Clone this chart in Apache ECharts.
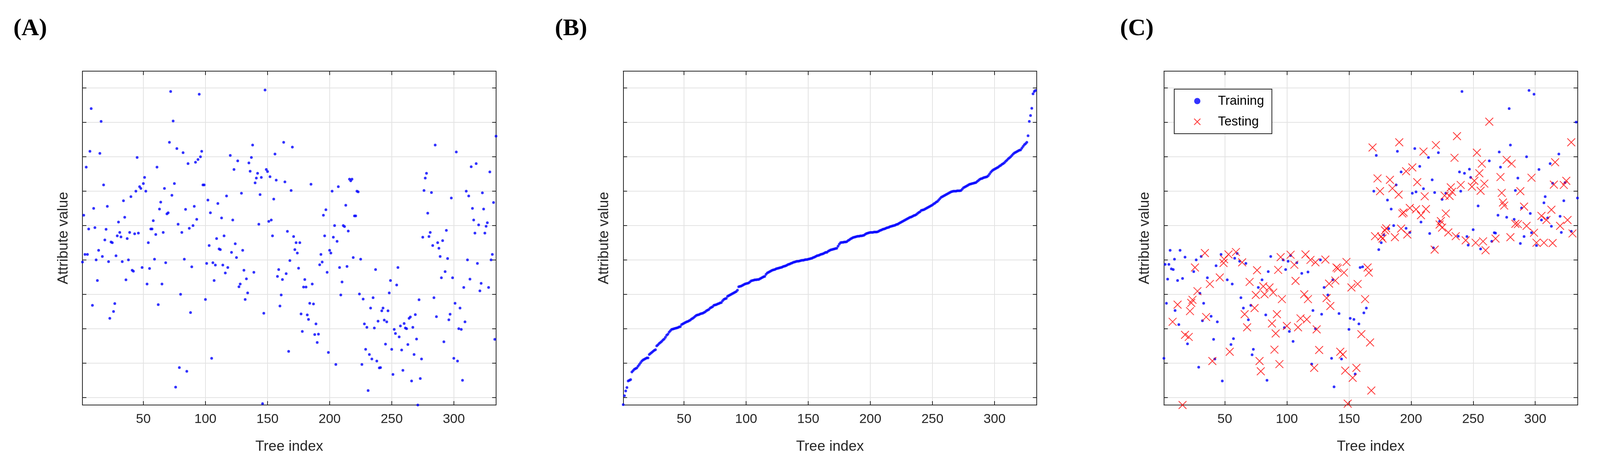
<!DOCTYPE html>
<html>
<head>
<meta charset="utf-8">
<script src="https://cdn.jsdelivr.net/npm/echarts@6/dist/echarts.min.js"></script>
<style>
html,body{margin:0;padding:0;background:#fff;overflow:hidden;}
#main{width:100vw;height:100vh;}
</style>
</head>
<body>
<div id="main"></div>
<script>
// tick positions (attribute value axis has no labels)
var xTicks = [50, 100, 150, 200, 250, 300];
var yTicks = [0, 1, 2, 3, 4, 5, 6, 7, 8, 9];

// (A) attribute value per tree index 1..334
var valuesA = [3.94,5.3,4.16,6.7,4.16,4.9,7.16,8.4,2.68,5.5,
4.94,4.0,3.4,4.28,7.1,8.03,4.1,6.18,4.58,4.89,
5.56,3.95,2.3,4.52,4.5,2.5,2.73,4.12,4.7,5.1,
4.8,4.67,3.95,5.72,5.24,3.42,4.62,4.0,4.8,5.84,
3.7,3.67,4.76,6.0,6.98,4.78,6.13,6.08,3.78,6.22,
6.4,6.0,3.3,4.5,3.75,4.9,4.9,5.14,4.02,4.74,
6.7,2.7,5.48,5.68,3.3,4.8,6.08,3.92,5.34,5.37,
7.42,8.9,5.88,8.04,6.22,0.3,7.24,5.04,0.87,3.0,
4.8,7.12,4.02,5.47,0.76,6.8,4.92,2.47,3.8,5.0,
5.56,6.84,5.18,6.92,8.82,7.0,7.16,6.18,6.18,2.85,
3.9,5.74,4.42,5.37,1.14,3.92,3.4,3.85,4.62,5.64,
4.32,4.3,5.22,3.85,4.7,3.62,5.86,3.78,9.5,7.04,
4.22,5.16,6.63,4.47,4.07,6.88,3.22,3.3,5.94,4.28,
3.7,2.85,3.45,3.04,6.82,6.58,6.98,7.34,3.64,6.24,
6.38,6.52,5.04,5.9,6.4,-0.18,2.45,8.94,6.63,6.57,
5.12,6.42,5.16,4.7,5.77,7.08,6.32,3.52,3.72,2.66,
2.98,3.43,7.42,6.27,3.6,4.83,1.34,3.98,6.02,7.28,
4.68,4.3,4.5,4.2,3.76,4.5,2.43,1.92,3.21,3.43,
3.21,2.4,2.27,2.74,6.2,3.3,2.72,1.83,2.14,1.6,
1.84,3.86,4.16,3.94,5.3,4.7,5.46,3.64,1.31,4.28,
4.2,6.0,4.66,5.0,0.96,4.54,6.13,3.78,2.98,3.36,
5.0,4.97,5.59,3.81,4.84,6.35,6.3,6.35,4.07,5.28,
5.28,6.0,5.98,3.01,4.02,0.96,2.86,2.14,1.4,2.04,
0.2,1.25,2.6,1.12,2.9,2.02,3.72,1.06,2.22,0.86,
0.87,2.52,2.6,2.25,1.55,2.2,2.52,3.04,3.4,1.4,
0.67,1.98,1.86,3.27,3.78,1.76,2.08,1.38,0.79,2.15,
2.02,2.0,1.54,2.3,2.34,0.48,2.04,1.25,2.41,1.7,
-0.22,2.84,0.55,1.12,4.66,6.02,6.38,6.52,5.36,4.68,
4.8,5.96,4.42,2.9,7.34,2.35,4.5,4.34,4.1,3.48,
4.56,1.62,3.66,4.86,4.04,2.26,2.42,5.8,3.48,1.14,
2.74,7.14,1.06,2.0,2.6,1.98,0.5,3.2,2.2,6.0,
4.0,5.86,3.44,6.71,5.5,5.16,4.78,6.8,3.9,5.02,
3.1,3.32,5.95,5.48,4.78,4.98,5.08,3.2,6.56,4.0,
4.16,5.67,1.69,7.6];

// (B) sorted attribute values
var valuesB = [-0.21,0.05,0.19,0.29,0.48,0.50,0.52,0.74,0.78,0.82,
0.84,0.86,0.91,0.96,1.01,1.06,1.09,1.11,1.13,1.15,
1.15,1.25,1.28,1.31,1.34,1.37,1.39,1.50,1.53,1.57,
1.60,1.63,1.67,1.70,1.75,1.81,1.84,1.90,1.94,1.98,
1.99,2.00,2.01,2.02,2.03,2.05,2.06,2.12,2.14,2.16,
2.18,2.20,2.21,2.23,2.25,2.28,2.30,2.33,2.36,2.39,
2.40,2.41,2.43,2.44,2.45,2.47,2.49,2.52,2.54,2.56,
2.60,2.62,2.64,2.68,2.69,2.70,2.72,2.73,2.75,2.76,
2.81,2.85,2.87,2.88,2.94,2.96,2.98,3.00,3.02,3.04,
3.06,3.08,3.12,3.22,3.23,3.24,3.26,3.28,3.30,3.31,
3.32,3.33,3.36,3.39,3.40,3.41,3.42,3.42,3.43,3.43,
3.45,3.47,3.49,3.51,3.52,3.58,3.62,3.64,3.66,3.68,
3.70,3.71,3.72,3.74,3.75,3.76,3.77,3.78,3.79,3.81,
3.82,3.83,3.85,3.87,3.88,3.90,3.91,3.93,3.94,3.95,
3.96,3.96,3.97,3.98,3.99,3.99,4.00,4.01,4.01,4.02,
4.03,4.04,4.05,4.07,4.08,4.10,4.12,4.13,4.14,4.16,
4.17,4.18,4.20,4.22,4.22,4.25,4.27,4.29,4.30,4.31,
4.32,4.33,4.34,4.40,4.46,4.50,4.51,4.51,4.52,4.52,
4.53,4.56,4.58,4.61,4.63,4.65,4.66,4.67,4.68,4.69,
4.69,4.70,4.70,4.71,4.72,4.75,4.77,4.78,4.79,4.80,
4.80,4.80,4.81,4.81,4.81,4.82,4.84,4.86,4.87,4.89,
4.90,4.91,4.93,4.94,4.95,4.97,4.98,4.99,5.00,5.01,
5.03,5.04,5.06,5.08,5.10,5.12,5.14,5.16,5.18,5.20,
5.22,5.24,5.25,5.27,5.29,5.30,5.32,5.35,5.38,5.40,
5.44,5.45,5.46,5.48,5.50,5.52,5.54,5.56,5.58,5.60,
5.63,5.65,5.68,5.70,5.74,5.78,5.82,5.84,5.86,5.88,
5.90,5.92,5.94,5.96,5.98,5.99,6.00,6.00,6.00,6.01,
6.01,6.01,6.02,6.06,6.10,6.12,6.14,6.16,6.18,6.20,
6.21,6.22,6.23,6.24,6.25,6.28,6.31,6.34,6.36,6.37,
6.39,6.40,6.41,6.42,6.45,6.50,6.55,6.59,6.62,6.64,
6.66,6.68,6.70,6.73,6.75,6.78,6.80,6.83,6.87,6.90,
6.94,6.97,7.00,7.04,7.08,7.11,7.13,7.15,7.17,7.19,
7.20,7.25,7.30,7.35,7.38,7.42,7.61,8.03,8.20,8.41,
8.83,8.90,8.93,9.51];

// (C) [tree index, value]
var trainingC = [[1,1.14],[2,3.87],[3,2.74],[4,3.44],[5,3.87],[6,4.28],[7,3.74],[8.5,3.72],[9.5,4.02],[10,2.53],
[12,3.4],[13,2.12],[14,4.28],[16,3.46],[18,4.08],[20,1.56],[25,3.66],[27,4.0],[29,0.88],[30,3.03],
[31,4.1],[32,2.23],[33,2.74],[36,3.48],[39,2.36],[41,1.69],[42,1.12],[43,3.83],[44,2.2],[47,4.16],
[48,0.48],[52,3.42],[55,1.54],[56,3.3],[57,1.71],[58,4.05],[60,4.19],[62,3.96],[63,2.9],[65,2.6],
[67,3.9],[69,2.26],[71,2.68],[72,1.24],[73,1.4],[77,3.2],[80,3.42],[83,2.4],[84,0.5],[85,3.66],
[87,4.1],[97,4.0],[98,2.03],[99,3.72],[101,3.96],[102,1.92],[103,4.13],[105,1.63],[108,3.92],[112,3.61],
[117,3.65],[120,0.97],[121,2.53],[123,2.0],[127,4.0],[128,2.42],[130,3.2],[133,2.98],[136,1.14],[137,3.42],
[138,0.31],[142,2.44],[144,1.12],[150,1.98],[151,2.3],[154,2.27],[155,0.68],[158,2.14],[159,3.78],[161,3.8],
[162,2.46],[164,2.6],[170,6.0],[172,7.04],[174,4.3],[176,4.5],[178,4.73],[181,5.74],[182,4.91],[184,5.48],
[186,5.0],[188,6.18],[189,7.16],[192,6.56],[196,4.92],[199,4.8],[201,5.94],[203,7.24],[204,5.98],[207,6.72],
[208,5.1],[210,6.07],[214,6.98],[215,4.77],[217,6.33],[218,4.35],[219,5.96],[222,7.12],[223,5.12],[225,5.76],
[228,5.94],[238,4.69],[239,6.56],[240,6.0],[241,8.9],[243,6.52],[245,4.68],[246,4.43],[247,6.64],[248,6.4],
[250,4.88],[254,5.57],[256,4.32],[263,6.88],[265,4.54],[267,4.79],[268,4.78],[270,5.3],[271,7.14],[272,6.7],
[277,5.24],[279,8.4],[280,7.34],[283,5.18],[284,6.02],[286,6.38],[288,4.48],[289,5.51],[291,4.68],[293,7.0],
[295,8.93],[296,5.35],[297,4.79],[299,8.82],[301,4.42],[303,6.63],[305,5.16],[307,5.66],[308,5.84],[310,5.22],
[312,6.8],[313,4.98],[314,6.23],[319,7.08],[320,5.27],[321,4.8],[323,5.72],[324,6.25],[329,4.83],[333,8.01],
[334,5.8]];
var testingC = [[8,2.2],[12,2.7],[16,-0.22],[18,1.82],[21,1.76],[22,2.51],[23,2.75],[24,2.84],[26,3.78],[28,3.09],
[34,4.2],[35,2.34],[38,3.3],[40,1.06],[46,3.49],[49,3.91],[49.5,4.02],[53,4.16],[54,1.33],[59,4.23],
[64,3.93],[66,2.42],[68,2.04],[70,3.36],[74,2.6],[75,2.98],[76,3.7],[78,1.06],[79,0.76],[81,3.23],
[82,3.0],[86,3.2],[88,2.15],[89,3.05],[90,1.39],[91,1.86],[92,2.42],[93,3.71],[94,0.97],[95,4.08],
[96,2.86],[100,2.08],[103,4.15],[106,3.86],[107,3.39],[109,2.04],[111,2.3],[114,3.0],[115,4.16],[116,2.27],
[117,2.86],[119,4.0],[122,0.86],[123,3.93],[124,1.98],[126,1.38],[131,4.01],[132,2.89],[134,3.31],[135,2.66],
[139,3.4],[140,3.78],[141,3.75],[143,1.33],[145,1.25],[146,3.63],[147,0.78],[148,3.94],[149,-0.18],[152,3.2],
[153,0.57],[156,0.86],[157,3.3],[160,1.84],[163,2.86],[165,3.78],[166,3.63],[167,1.6],[168,0.2],[169,7.27],
[171,4.69],[173,6.37],[175,6.0],[176,4.68],[177,4.62],[179,4.86],[180,4.92],[183,6.33],[185,6.08],[187,4.66],
[190,5.9],[190.5,7.42],[192,4.91],[193,5.35],[194,5.38],[196,6.58],[197,4.74],[199,5.51],[201,6.69],[204,5.47],
[205,6.26],[208,5.3],[210,7.15],[211,5.85],[212,5.48],[219,4.3],[220,7.34],[223,5.03],[224,5.13],[225,4.94],
[227,5.87],[228,5.35],[230,4.8],[231,5.86],[232,6.11],[233,5.98],[235,6.97],[236,4.69],[237,7.6],[240,6.18],
[244,4.57],[249,6.13],[251,6.3],[252,4.5],[253,7.12],[255,6.52],[256,6.01],[257,6.8],[258,4.54],[259,6.22],
[260,4.28],[263,8.02],[268,4.62],[272,6.41],[273,5.95],[274,5.67],[275,5.58],[277,6.91],[280,4.66],[281,6.8],
[284,5.05],[286,5.04],[288,6.0],[291,5.55],[293,4.99],[297,6.39],[299,4.79],[301,4.5],[305,5.28],[307,4.5],
[309,5.16],[313,5.46],[314,4.49],[315,6.19],[316,6.84],[320,4.99],[323,6.18],[324,9.5],[325,6.3],[326,5.16],
[329,7.42],[330,4.77]];

var myChart = echarts.init(document.getElementById('main'));
// layout in fractions of the 4190x1192 page
function px(v) { return (v / 4190 * 100) + '%'; }
function py(v) { return (v / 1192 * 100) + '%'; }
var lefts = [216, 1632, 3048];
var W = 1083, TOP = 182, H = 854;
var crossPath = 'path://M0,0L10,10M10,0L0,10';
var axisColor = '#262626';

var grids = [], xAxes = [], yAxes = [], series = [];
for (var g = 0; g < 3; g++) {
	grids.push({left: px(lefts[g]), top: py(TOP), width: px(W), height: py(H), show: false});
	// bottom x, with labels
	xAxes.push({
		type: 'value', gridIndex: g, min: 1, max: 334, position: 'bottom',
		name: 'Tree index', nameLocation: 'middle', nameGap: 88,
		nameTextStyle: {fontFamily: 'Liberation Sans', fontSize: 37, color: axisColor},
		axisLine: {show: true, onZero: false, lineStyle: {color: axisColor, width: 2}},
		axisTick: {show: true, inside: true, length: 10, customValues: xTicks, lineStyle: {color: axisColor, width: 2}},
		axisLabel: {customValues: xTicks, fontFamily: 'Liberation Sans', fontSize: 34, color: axisColor, margin: 20},
		splitLine: {show: true, lineStyle: {color: '#e3e3e3', width: 2}}
	});
	// top x, box + ticks
	xAxes.push({
		type: 'value', gridIndex: g, min: 1, max: 334, position: 'top',
		axisLine: {show: true, onZero: false, lineStyle: {color: axisColor, width: 2}},
		axisTick: {show: true, inside: true, length: 10, customValues: xTicks, lineStyle: {color: axisColor, width: 2}},
		axisLabel: {show: false}, splitLine: {show: false}
	});
	yAxes.push({
		type: 'value', gridIndex: g, min: -0.22, max: 9.49, position: 'left',
		name: 'Attribute value', nameLocation: 'middle', nameGap: 30, nameRotate: 90,
		nameTextStyle: {fontFamily: 'Liberation Sans', fontSize: 37, color: axisColor},
		axisLine: {show: true, onZero: false, lineStyle: {color: axisColor, width: 2}},
		axisTick: {show: true, inside: true, length: 10, customValues: yTicks, lineStyle: {color: axisColor, width: 2}},
		axisLabel: {show: false, customValues: yTicks},
		splitLine: {show: true, lineStyle: {color: '#e3e3e3', width: 2}}
	});
	yAxes.push({
		type: 'value', gridIndex: g, min: -0.22, max: 9.49, position: 'right',
		axisLine: {show: true, onZero: false, lineStyle: {color: axisColor, width: 2}},
		axisTick: {show: true, inside: true, length: 10, customValues: yTicks, lineStyle: {color: axisColor, width: 2}},
		axisLabel: {show: false}, splitLine: {show: false}
	});
}

function indexed(arr) {
	return arr.map(function(v, i) { return [i + 1, v]; });
}
var dot = {type: 'scatter', symbol: 'circle', symbolSize: 7, itemStyle: {color: '#0000ff'}, silent: true};

series.push(Object.assign({}, dot, {name: 'A', xAxisIndex: 0, yAxisIndex: 0, data: indexed(valuesA)}));
series.push(Object.assign({}, dot, {name: 'B', xAxisIndex: 2, yAxisIndex: 2, data: indexed(valuesB)}));
series.push(Object.assign({}, dot, {name: 'Training', xAxisIndex: 4, yAxisIndex: 4, data: trainingC}));
series.push({
	name: 'Testing', type: 'scatter', xAxisIndex: 4, yAxisIndex: 4, silent: true,
	symbol: crossPath, symbolSize: 20,
	itemStyle: {color: 'rgba(0,0,0,0)', borderColor: '#ff0000', borderWidth: 2},
	data: testingC
});

option = {
	animation: false,
	backgroundColor: '#fff',
	title: [
		{text: '(A)', left: px(30), top: py(38)},
		{text: '(B)', left: px(1448), top: py(38)},
		{text: '(C)', left: px(2928), top: py(38)}
	].map(function(t) {
		t.textStyle = {fontFamily: 'Liberation Serif', fontWeight: 'bold', fontSize: 62, color: '#000'};
		return t;
	}),
	legend: {
		data: [
			{name: 'Training', icon: 'circle', itemStyle: {color: '#0000ff'}},
			{name: 'Testing', icon: crossPath, itemStyle: {color: 'rgba(0,0,0,0)', borderColor: '#ff0000', borderWidth: 2}}
		],
		orient: 'vertical', left: px(3075), top: py(228),
		padding: [14, 20, 14, 50], itemGap: 20, itemWidth: 16, itemHeight: 16,
		borderColor: axisColor, borderWidth: 2, backgroundColor: '#fff',
		textStyle: {fontFamily: 'Liberation Sans', fontSize: 33, color: '#000', padding: [0, 0, 0, 40]}
	},
	grid: grids,
	xAxis: xAxes,
	yAxis: yAxes,
	series: series
};
myChart.setOption(option);
window.addEventListener('resize', function() { myChart.resize(); });
</script>
</body>
</html>
